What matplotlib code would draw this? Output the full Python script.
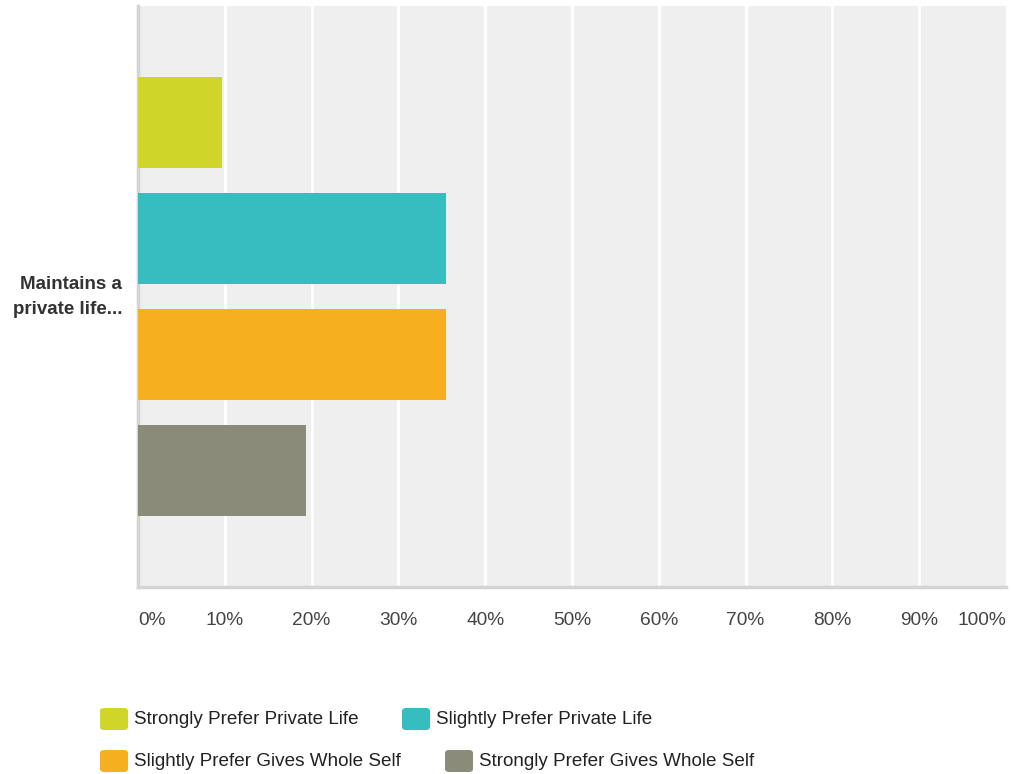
import matplotlib.pyplot as plt
from matplotlib.patches import FancyBboxPatch

plt.rcParams["font.family"] = ["Liberation Sans", "DejaVu Sans"]

question = "Maintains a\nprivate life..."
answers = [
    "Strongly Prefer Private Life",
    "Slightly Prefer Private Life",
    "Slightly Prefer Gives Whole Self",
    "Strongly Prefer Gives Whole Self",
]
percents = [9.68, 35.48, 35.48, 19.35]
colors = ["#d0d52a", "#35bdbf", "#f6b01f", "#8a8b79"]
ticks = list(range(0, 101, 10))
tick_labels = [f"{t}%" for t in ticks]

fig = plt.figure(figsize=(10.11, 7.74), dpi=100)
ax = fig.add_axes([0.1365, 0.2416, 0.8585, 0.7506])
ax.set_facecolor("#efefef")

for i, (p, c) in enumerate(zip(percents, colors)):
    ax.barh(i, p, height=0.785, color=c, zorder=3)

ax.set_xlim(0, 100)
ax.set_ylim(4.0, -1.0)
for t in ticks[1:-1]:
    ax.axvline(t, color="white", linewidth=2, zorder=1)

for s in ["top", "right"]:
    ax.spines[s].set_visible(False)
for s in ["left", "bottom"]:
    ax.spines[s].set_color("#d4d4d4")
    ax.spines[s].set_linewidth(2.5)

ax.set_yticks([])
ax.set_xticks(ticks)
ax.set_xticklabels([])
ax.tick_params(axis="x", length=0)
# tick labels drawn by hand: first left-aligned, last right-aligned
for t, lab in zip(ticks, tick_labels):
    ha = "left" if t == 0 else ("right" if t == 100 else "center")
    ax.text(t, -0.057, lab, transform=ax.get_xaxis_transform(), ha=ha, va="center",
            fontsize=13.8, color="#444444")

fig.text(0.121, 1 - 297 / 774, question, ha="right", va="center", fontsize=13.5,
         fontweight="bold", color="#333333", linespacing=1.55)

legend_pos = [(100, 719), (402, 719), (100, 761), (445, 761)]
for (px, py), lab, c in zip(legend_pos, answers, colors):
    w, h = 28 / 1011, 22 / 774
    box = FancyBboxPatch((px / 1011, 1 - py / 774 - h / 2), w, h,
                         boxstyle="round,pad=0,rounding_size=0.004",
                         transform=fig.transFigure, facecolor=c, edgecolor="none")
    fig.patches.append(box)
    fig.text((px + 34) / 1011, 1 - py / 774, lab, ha="left", va="center",
             fontsize=13.6, color="#222222")

fig.savefig("out.png", dpi=100)
